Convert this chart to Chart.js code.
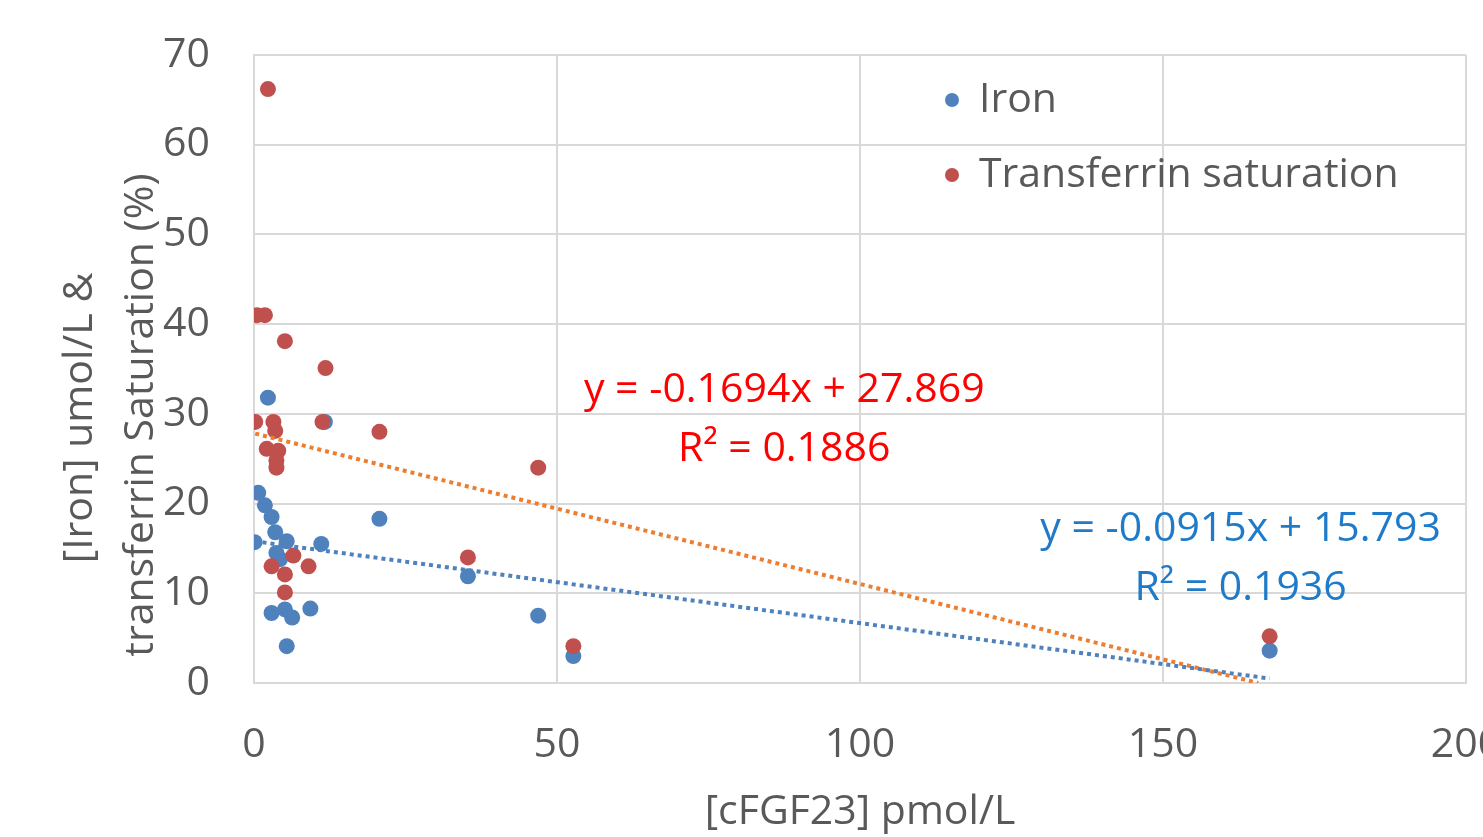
<!DOCTYPE html>
<html>
<head>
<meta charset="utf-8">
<script src="https://cdn.jsdelivr.net/npm/chart.js@4.4.1/dist/chart.umd.min.js"></script>
<style>
  html, body { margin: 0; padding: 0; background: #fff; overflow: hidden; }
</style>
</head>
<body>
<canvas id="fgfChart" width="1483" height="837"></canvas>
<script>
// values
const ironX = [2.3, 11.7, 20.7, 0.7, 1.8, 2.9, 3.5, 0.1, 5.4, 11.1, 3.7, 4.3, 2.9, 6.3, 5.1, 9.3, 5.4, 35.3, 46.9, 52.7, 167.6];
const ironY = [31.8, 29.1, 18.3, 21.2, 19.8, 18.5, 16.8, 15.7, 15.8, 15.5, 14.5, 13.8, 7.8, 7.3, 8.2, 8.3, 4.1, 11.9, 7.5, 3.0, 3.6];

const tsatX = [2.3, 0.5, 1.8, 5.1, 11.8, 0.2, 3.2, 11.3, 20.7, 3.5, 2.1, 4.0, 3.7, 3.7, 46.9, 6.5, 9.0, 2.9, 5.1, 5.1, 35.3, 52.7, 167.6];
const tsatY = [66.2, 41.0, 41.0, 38.1, 35.1, 29.1, 29.1, 29.1, 28.0, 28.1, 26.1, 25.9, 24.8, 24.0, 24.0, 14.2, 13.0, 13.0, 12.1, 10.1, 14.0, 4.1, 5.2];

// trendline ends as drawn in the picture
const ironTrendX = [0.1, 167.6];
const ironTrendY = [15.8, 0.5];
const tsatTrendX = [0.2, 165.7];
const tsatTrendY = [27.8, 0.0];

const xTicks = [0, 50, 100, 150, 200];
const yTicks = [0, 10, 20, 30, 40, 50, 60, 70];

const ironEq = ['y = -0.0915x + 15.793', 'R\u00B2 = 0.1936'];
const tsatEq = ['y = -0.1694x + 27.869', 'R\u00B2 = 0.1886'];
const yTitle = ['[Iron] umol/L &', 'transferrin Saturation (%)'];
const xTitle = '[cFGF23] pmol/L';

const seriesNames = ['Iron', 'Transferrin saturation'];
const blue = '#4F81BD';
const red = '#C0504D';
const grey = '#595959';
const fontFam = '"Open Sans", Lato, sans-serif';
const fontSize = 41;

function pts(xs, ys) {
    return xs.map((x, i) => ({x: x, y: ys[i]}));
}

// equation labels, legend and y title
const overlay = {
    id: 'overlay',
    afterDatasetsDraw(chart) {
        const {ctx, scales: {x, y}} = chart;
        ctx.save();
        ctx.font = fontSize + 'px ' + fontFam;
        ctx.textAlign = 'center';
        ctx.textBaseline = 'middle';

        ctx.fillStyle = '#FF0000';
        ctx.fillText(tsatEq[0], x.getPixelForValue(87.5), y.getPixelForValue(32.6));
        ctx.fillText(tsatEq[1], x.getPixelForValue(87.5), y.getPixelForValue(26.1));

        ctx.fillStyle = '#1F7BC9';
        ctx.fillText(ironEq[0], x.getPixelForValue(162.8), y.getPixelForValue(17.1));
        ctx.fillText(ironEq[1], x.getPixelForValue(162.8), y.getPixelForValue(10.6));

        // legend
        const lx = 952;
        const rows = [[100, blue], [175, red]];
        ctx.textAlign = 'left';
        rows.forEach((r, i) => {
            ctx.fillStyle = r[1];
            ctx.beginPath();
            ctx.arc(lx, r[0], 7, 0, Math.PI * 2);
            ctx.fill();
            ctx.fillStyle = grey;
            ctx.fillText(seriesNames[i], lx + 27, r[0]);
        });

        // y axis title, two lines
        ctx.fillStyle = grey;
        ctx.textAlign = 'center';
        [[80, 418], [141, 415]].forEach((p, i) => {
            ctx.save();
            ctx.translate(p[0], p[1]);
            ctx.rotate(-Math.PI / 2);
            ctx.fillText(yTitle[i], 0, 0);
            ctx.restore();
        });
        ctx.restore();
    }
};

new Chart(document.getElementById('fgfChart'), {
    type: 'scatter',
    data: {
        datasets: [
            {
                label: 'Iron trend',
                type: 'line',
                data: pts(ironTrendX, ironTrendY),
                borderColor: blue,
                borderWidth: 4,
                borderDash: [4, 4],
                pointRadius: 0,
                fill: false,
                order: 0
            },
            {
                label: 'Transferrin trend',
                type: 'line',
                data: pts(tsatTrendX, tsatTrendY),
                borderColor: '#ED7D31',
                borderWidth: 4,
                borderDash: [4, 4],
                pointRadius: 0,
                fill: false,
                order: 0
            },
            {
                label: seriesNames[1],
                data: pts(tsatX, tsatY),
                backgroundColor: red,
                borderColor: red,
                pointRadius: 8,
                pointBorderWidth: 0,
                order: 1
            },
            {
                label: seriesNames[0],
                data: pts(ironX, ironY),
                backgroundColor: blue,
                borderColor: blue,
                pointRadius: 8,
                pointBorderWidth: 0,
                order: 2
            }
        ]
    },
    options: {
        responsive: false,
        animation: false,
        events: [],
        layout: {
            padding: {top: 55, right: 17, bottom: 0, left: 0}
        },
        plugins: {
            legend: {display: false},
            tooltip: {enabled: false}
        },
        scales: {
            x: {
                type: 'linear',
                min: 0,
                max: 200,
                afterBuildTicks: (scale) => {
                    scale.ticks = xTicks.map(v => ({value: v}));
                },
                afterFit: (scale) => {
                    scale.height = 154;
                    scale.paddingLeft = 0;
                    scale.paddingRight = 0;
                },
                grid: {color: '#D9D9D9', lineWidth: 2, drawTicks: false},
                border: {color: '#D9D9D9', width: 2},
                ticks: {
                    color: grey,
                    padding: 38,
                    maxRotation: 0,
                    font: {family: fontFam, size: fontSize}
                },
                title: {
                    display: true,
                    text: xTitle,
                    color: grey,
                    padding: {top: 0, bottom: 0},
                    font: {family: fontFam, size: fontSize}
                }
            },
            y: {
                min: 0,
                max: 70,
                afterBuildTicks: (scale) => {
                    scale.ticks = yTicks.map(v => ({value: v}));
                },
                afterFit: (scale) => {
                    scale.width = 254;
                    scale.paddingTop = 0;
                    scale.paddingBottom = 0;
                },
                grid: {color: '#D9D9D9', lineWidth: 2, drawTicks: false},
                border: {color: '#D9D9D9', width: 2},
                ticks: {
                    color: grey,
                    padding: 44,
                    font: {family: fontFam, size: fontSize}
                }
            }
        }
    },
    plugins: [overlay]
});
</script>
</body>
</html>
